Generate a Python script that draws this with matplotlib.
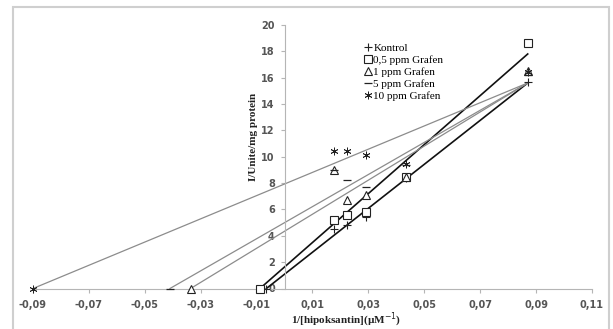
import numpy as np
import matplotlib.pyplot as plt
from matplotlib.patches import Rectangle

# 1/[S] values of the measured points
inv_s = [0.0178, 0.0222, 0.029, 0.0435, 0.087]

labels = ['Kontrol', '0,5 ppm Grafen', '1 ppm Grafen', '5 ppm Grafen', '10 ppm Grafen']
kontrol = [4.5, 4.8, 5.4, 8.4, 15.7]
grafen_05 = [5.2, 5.6, 5.8, 8.5, 18.6]
grafen_1 = [9.0, 6.7, 7.1, 8.5, 16.5]
grafen_5 = [9.0, 8.2, 7.7, 9.4, 16.2]
grafen_10 = [10.4, 10.4, 10.1, 9.45, 16.4]

# x intercept (-1/Km) and value of the line at the last point
x_intercept = [-0.0065, -0.0088, -0.0336, -0.041, -0.09]
line_end = [15.6, 17.8, 15.6, 15.6, 15.6]

xticks = np.round(np.arange(-0.09, 0.111, 0.02), 2)
yticks = np.arange(0, 21, 2)

series = [kontrol, grafen_05, grafen_1, grafen_5, grafen_10]
markers = ['+', 's', '^', '_', (6, 2, 0)]
msizes = [5.5, 5.5, 5.5, 6, 5.5]
mews = [0.8, 0.8, 0.8, 0.9, 0.6]
line_cols = ['#111111', '#111111', '#8c8c8c', '#8c8c8c', '#8c8c8c']
line_w = [1.2, 1.2, 0.9, 0.9, 0.9]

fig = plt.figure(figsize=(6.13, 3.29), dpi=100)
ax = fig.add_axes([33/613, 1 - 288.5/329, (592 - 33)/613, (288.5 - 25)/329])

for i in range(5):
    x0 = x_intercept[i]
    ax.plot([x0, inv_s[-1]], [0, line_end[i]], color=line_cols[i], lw=line_w[i], zorder=2)

for i in range(5):
    xs = [x_intercept[i]] + inv_s
    ys = [0] + series[i]
    ax.plot(xs, ys, linestyle='none', marker=markers[i], ms=msizes[i],
            mfc='white' if markers[i] in ('s', '^') else 'black',
            mec='#222222', mew=mews[i], color='black', label=labels[i],
            zorder=3, clip_on=False)

ax.set_xlim(-0.09, 0.11)
ax.set_ylim(0, 20)
ax.set_xticks(xticks)
ax.set_xticklabels([f'{v:.2f}'.replace('.', ',') for v in xticks])
ax.set_yticks(yticks)

for s in ['top', 'right']:
    ax.spines[s].set_visible(False)
ax.spines['left'].set_position(('data', 0))
ax.spines['left'].set_color('#b5b5b5')
ax.spines['bottom'].set_color('#b5b5b5')
ax.tick_params(axis='both', colors='#b5b5b5', length=3, width=0.8)
ax.tick_params(axis='x', pad=5)
ax.tick_params(axis='y', pad=4)
for t in ax.get_xticklabels() + ax.get_yticklabels():
    t.set_color('#555555')
    t.set_fontsize(7)
    t.set_fontweight('bold')
ax.patch.set_alpha(0)

leg = ax.legend(loc='upper left', bbox_to_anchor=(327/559, 1 - (39 - 25)/263.5),
                frameon=False, handlelength=0.6, handletextpad=0.2, labelspacing=0.2,
                borderaxespad=0, prop={'family': 'Liberation Serif', 'size': 8})

fig.text(346/613, 1 - 320/329, '1/[hipoksantin](µM$^{-1}$)', ha='center', va='center',
         fontsize=8, fontweight='bold', family='Liberation Serif', color='#222222')
fig.text(254/613, 1 - 137/329, 'I/Unite/mg protein', ha='center', va='center', rotation=90,
         fontsize=8, fontweight='bold', family='Liberation Serif', color='#222222')

fig.patches.append(Rectangle((13/613, -0.05), 596/613, 1.05 - 7/329, transform=fig.transFigure,
                             fill=False, edgecolor='#cfcfcf', lw=1.5))

fig.savefig('out.png', dpi=100)
